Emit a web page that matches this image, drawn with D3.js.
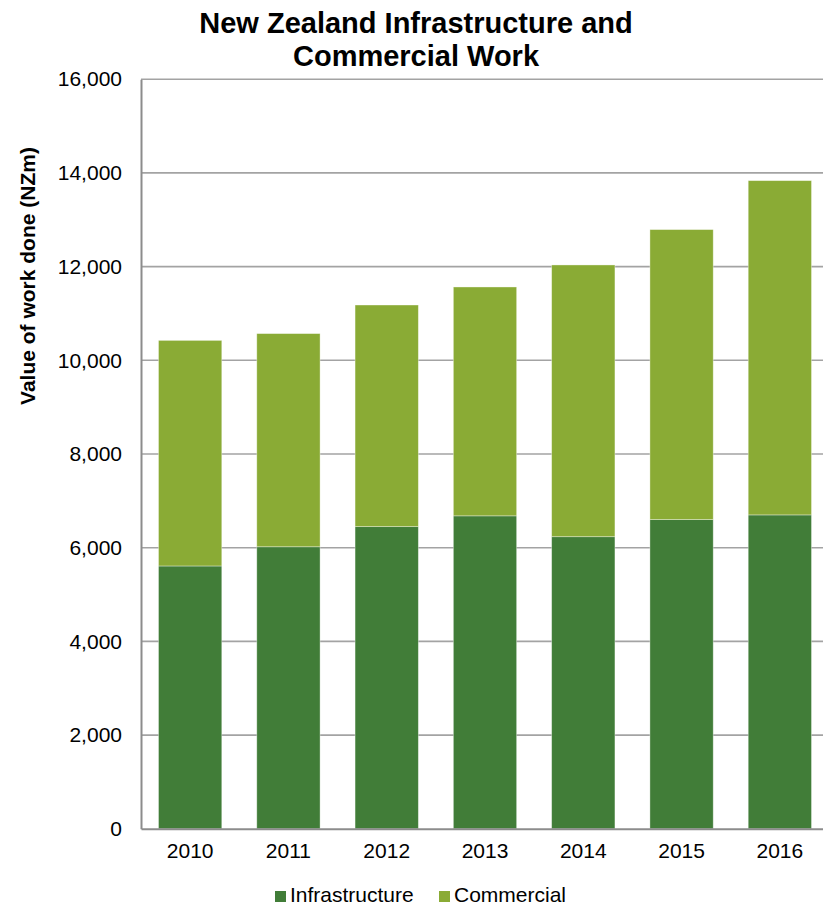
<!DOCTYPE html>
<html>
<head>
<meta charset="utf-8">
<script src="https://cdn.jsdelivr.net/npm/d3@7"></script>
<style>
  html, body { margin: 0; padding: 0; background: #ffffff; overflow: hidden; }
  svg { display: block; font-family: "Liberation Sans", Arial, sans-serif; }
</style>
</head>
<body>
<svg id="chart" width="823" height="907"></svg>
<script>
// Value of work done, NZ$ millions
const years = ["2010", "2011", "2012", "2013", "2014", "2015", "2016"];
const infrastructure = [5610, 6020, 6450, 6680, 6235, 6600, 6700];
const commercial = [4815, 4550, 4730, 4885, 5800, 6190, 7135];
const seriesNames = ["Infrastructure", "Commercial"];
const seriesColors = ["#417d38", "#8aab35"];
const yTicks = [0, 2000, 4000, 6000, 8000, 10000, 12000, 14000, 16000];
const titleLines = ["New Zealand Infrastructure and", "Commercial Work"];
const yLabel = "Value of work done (NZm)";

const svg = d3.select("#chart");
const plot = { left: 141, right: 829, top: 79.2, bottom: 828.8 };

const rows = years.map((y, i) => ({ year: y, Infrastructure: infrastructure[i], Commercial: commercial[i] }));
const stacked = d3.stack().keys(seriesNames)(rows);

const x = d3.scaleBand().domain(years).range([plot.left, plot.right])
  .paddingInner(0.356).paddingOuter(0.178);
const y = d3.scaleLinear().domain([0, 16000]).range([plot.bottom, plot.top]);
const color = d3.scaleOrdinal().domain(seriesNames).range(seriesColors);

// gridlines
svg.append("g")
  .selectAll("line")
  .data(yTicks.filter(d => d > 0))
  .join("line")
  .attr("x1", plot.left).attr("x2", plot.right)
  .attr("y1", d => y(d)).attr("y2", d => y(d))
  .attr("stroke", "#a3a3a3").attr("stroke-width", 1.6);

// stacked bars
svg.append("g")
  .selectAll("g")
  .data(stacked)
  .join("g")
  .attr("fill", d => color(d.key))
  .selectAll("rect")
  .data(d => d)
  .join("rect")
  .attr("x", d => x(d.data.year))
  .attr("width", x.bandwidth())
  .attr("y", d => y(d[1]))
  .attr("height", d => y(d[0]) - y(d[1]))
  .attr("stroke", "#ffffff").attr("stroke-opacity", 0.45).attr("stroke-width", 0.8);

// y axis
const yAxis = d3.axisLeft(y).tickValues(yTicks).tickSize(0).tickPadding(19)
  .tickFormat(d3.format(","));
const gy = svg.append("g").attr("transform", `translate(${plot.left},0)`).call(yAxis);
gy.select(".domain").attr("stroke", "#8c8c8c").attr("stroke-width", 2);
gy.selectAll("text").attr("font-size", 21).attr("fill", "#000")
  .attr("font-family", "Liberation Sans, Arial, sans-serif");

// x axis
const xAxis = d3.axisBottom(x).tickSize(0).tickPadding(14);
const gx = svg.append("g").attr("transform", `translate(0,${plot.bottom})`).call(xAxis);
gx.select(".domain").attr("stroke", "#8c8c8c").attr("stroke-width", 2);
gx.selectAll("text").attr("font-size", 21).attr("fill", "#000")
  .attr("font-family", "Liberation Sans, Arial, sans-serif");

// title
svg.append("text")
  .attr("x", 416).attr("y", 33)
  .attr("text-anchor", "middle")
  .attr("font-size", 29).attr("font-weight", "bold")
  .selectAll("tspan")
  .data(titleLines)
  .join("tspan")
  .attr("x", 416)
  .attr("dy", (d, i) => i === 0 ? 0 : 33)
  .text(d => d);

// y axis label
svg.append("text")
  .attr("transform", "translate(35,276) rotate(-90)")
  .attr("text-anchor", "middle")
  .attr("font-size", 21).attr("font-weight", "bold")
  .text(yLabel);

// legend
const legendX = [275, 439];
const legend = svg.append("g");
seriesNames.forEach((name, i) => {
  legend.append("rect")
    .attr("x", legendX[i]).attr("y", 891)
    .attr("width", 11).attr("height", 11)
    .attr("fill", color(name));
  legend.append("text")
    .attr("x", legendX[i] + 15).attr("y", 902)
    .attr("font-size", 21)
    .text(name);
});
</script>
</body>
</html>
